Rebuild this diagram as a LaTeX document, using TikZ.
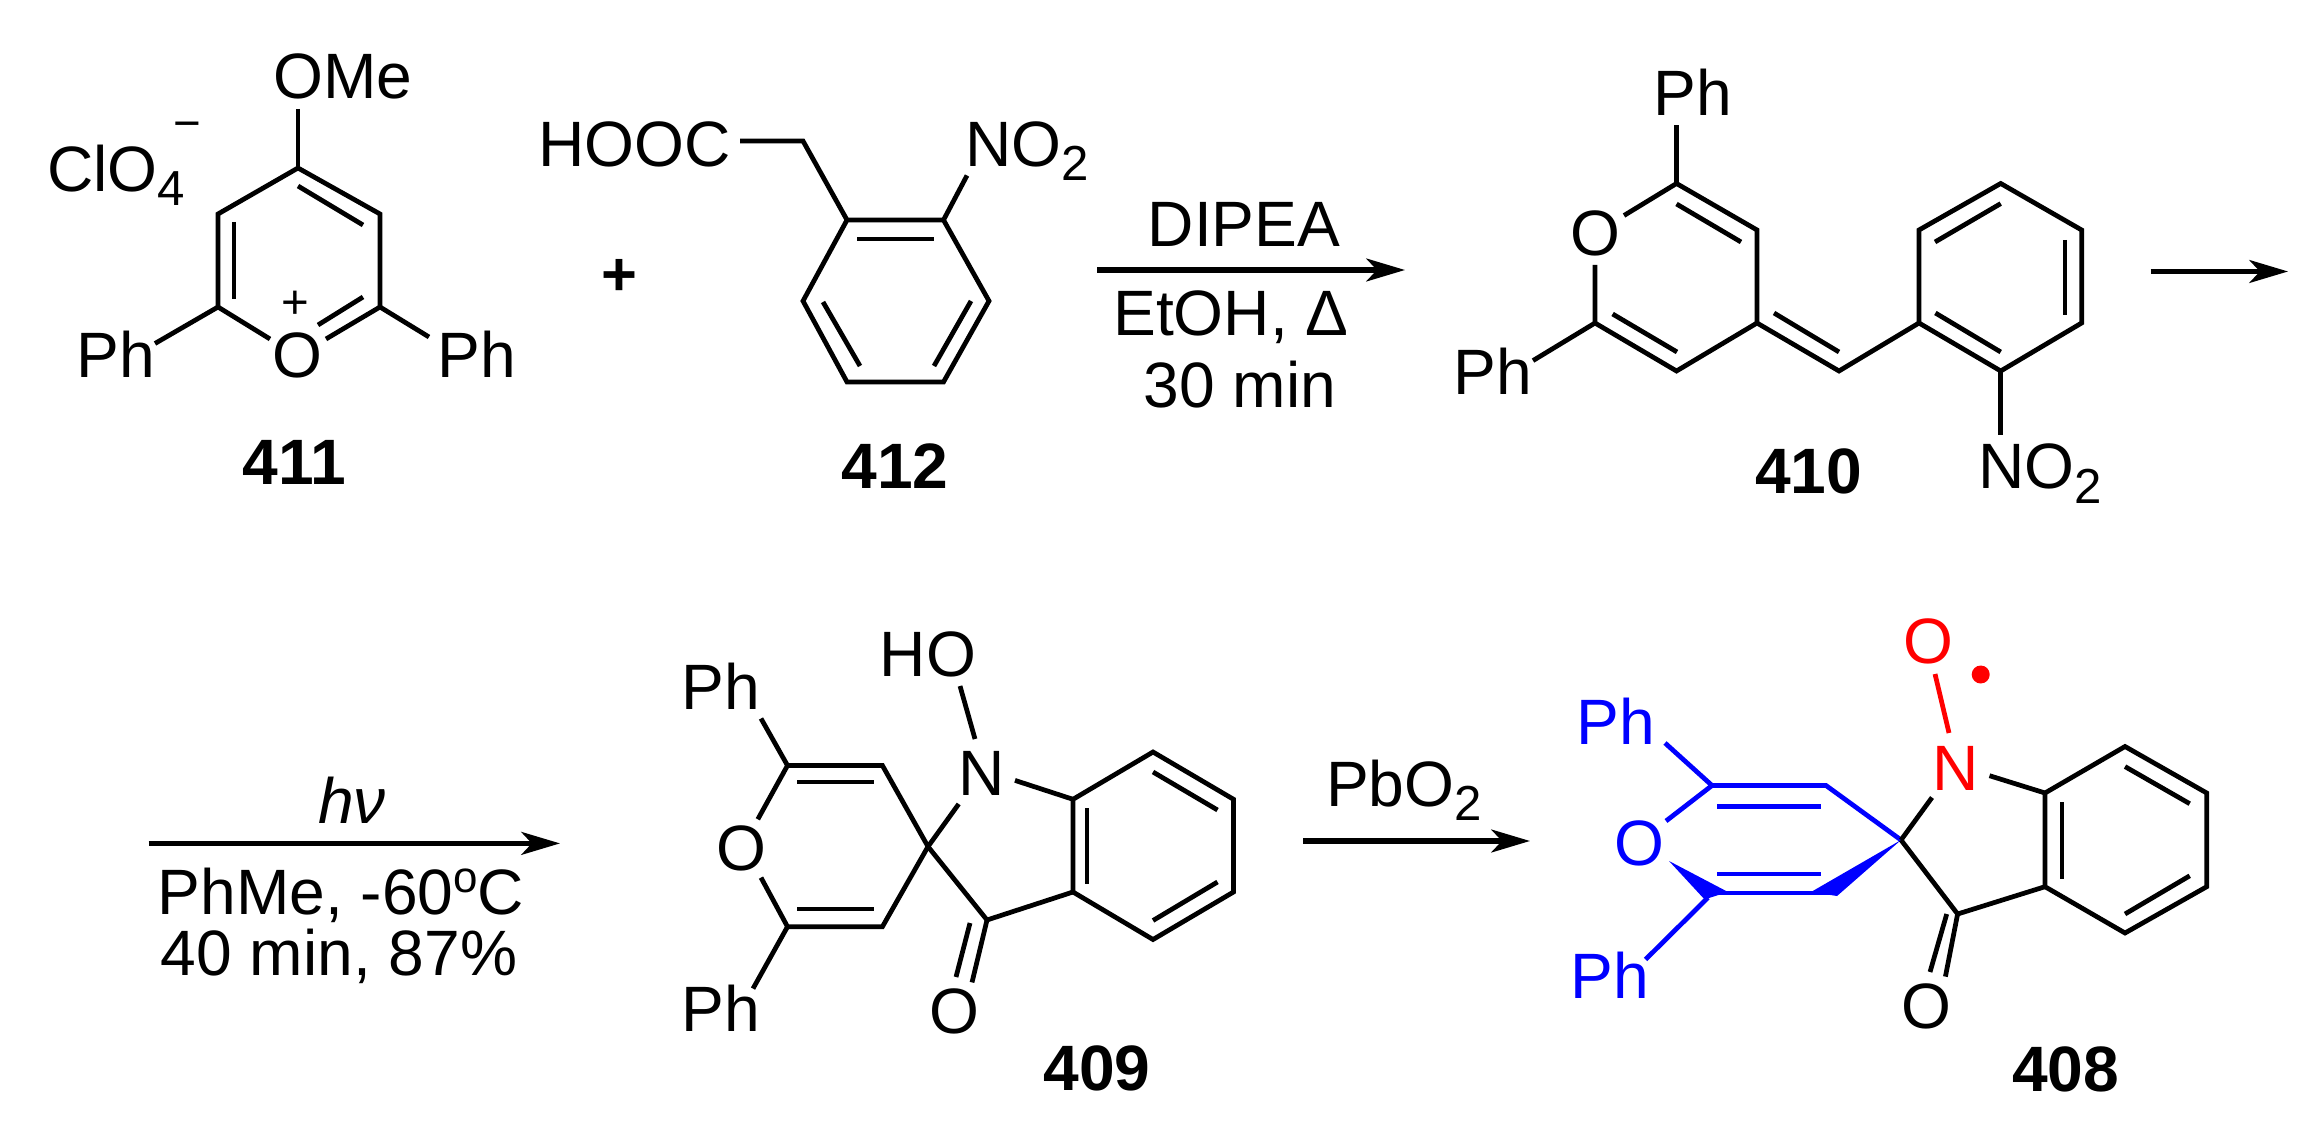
\documentclass[tikz,border=0pt]{standalone}
\usepackage{fontspec}
\setmainfont{Liberation Sans}
\usetikzlibrary{arrows.meta}
\definecolor{cblue}{RGB}{0,0,255}
\definecolor{cred}{RGB}{255,0,0}
\newcommand{\sbx}[1]{\raisebox{-8pt}{\fontsize{28}{28}\selectfont #1}}
\newcommand{\spx}[1]{\raisebox{12.5pt}{\fontsize{25}{25}\selectfont #1}}
\tikzset{
  bond/.style={line width=2.7pt,line join=miter,line cap=butt},
  rxn/.style={line width=3pt,-{Stealth[length=22pt,width=13pt,inset=6pt]}},
  atom/.style={inner sep=0pt,outer sep=0pt,anchor=base,font=\fontsize{36.5}{40}\selectfont},
  atomw/.style={atom,anchor=base west},
  lab/.style={atom,font=\fontsize{36.5}{40}\selectfont\bfseries},
  chg/.style={inner sep=0pt,outer sep=0pt,font=\fontsize{27}{27}\selectfont},
}
\begin{document}
\begin{tikzpicture}[x=0.02cm,y=-0.02cm]
\useasboundingbox (0,0) rectangle (2324,1141);
% ---------- 411
\node[atom] (ome) at (343,99) {OMe};
\node[atomw] (clo) at (47,191.6) {ClO\sbx{4}};
\node[chg] (minus) at (187,131) {−};
\node[atom] (ph411a) at (116,378) {Ph};
\node[atom] (o411) at (297.5,378) {O};
\node[atom] (ph411b) at (477,378) {Ph};
\node[chg] (plus411) at (295,305) {+};
\node[lab] (l411) at (294.5,484.5) {411};
\coordinate (a1) at (298,168);
\coordinate (a2) at (380,214);
\coordinate (a3) at (380,307);
\coordinate (a5) at (218,307);
\coordinate (a6) at (218,214);
\coordinate (a1e) at (298,109);
\coordinate (a3o) at (326,339);
\coordinate (a5o) at (270,339);
\coordinate (a5p) at (155,343.5);
\coordinate (a3p) at (429,337);
\draw[bond] (a5o) -- (a5) -- (a6) -- (a1) -- (a2) -- (a3) -- (a3o);
\draw[bond] (a1e) -- (a1);
\draw[bond] (a5) -- (a5p);
\draw[bond] (a3) -- (a3p);
\draw[bond] (234,222) -- (234,299);
\draw[bond] (298,186) -- (363,225);
\draw[bond] (363,297) -- (318,325);
% ---------- plus
\node[atom,font=\fontsize{35}{40}\selectfont\bfseries,anchor=center] (plus) at (619,277) {+};
% ---------- 412
\node[atomw] (hooc) at (538,166.5) {HOOC};
\node[atomw] (no412) at (965,166.5) {NO\sbx{2}};
\node[lab] (l412) at (895,489) {412};
\coordinate (b0) at (740,141);
\coordinate (b1) at (803,141);
\coordinate (c1) at (847,220);
\coordinate (c2) at (943.5,220);
\coordinate (c3) at (989,301);
\coordinate (c4) at (943.5,382);
\coordinate (c5) at (847,382);
\coordinate (c6) at (803,301);
\coordinate (c2n) at (967,175.5);
\draw[bond] (b0) -- (b1) -- (c1);
\draw[bond] (c1) -- (c2) -- (c3) -- (c4) -- (c5) -- (c6) -- cycle;
\draw[bond] (c2) -- (c2n);
\draw[bond] (857,239) -- (934,239);
\draw[bond] (823,302) -- (860,366);
\draw[bond] (971,301) -- (934,366);
% ---------- arrow 1
\coordinate (r1s) at (1097,270);
\coordinate (r1e) at (1405,270);
\draw[rxn] (r1s) -- (r1e);
\node[atom] (dipea) at (1244,247) {DIPEA};
\node[atom] (etoh) at (1231,336) {EtOH, Δ};
\node[atom] (t30) at (1240,408) {30 min};
% ---------- 410
\node[atom] (ph410a) at (1693,115.6) {Ph};
\node[atom] (o410) at (1595,255.5) {O};
\node[atom] (ph410b) at (1492.6,395) {Ph};
\node[atomw] (no410) at (1978,489) {NO\sbx{2}};
\node[lab] (l410) at (1808.5,493.6) {410};
\coordinate (d1) at (1676.5,183.5);
\coordinate (d2) at (1757,230);
\coordinate (d3) at (1757,323);
\coordinate (d4) at (1676.5,371);
\coordinate (d5) at (1595,323);
\coordinate (d5o) at (1595,265);
\coordinate (d1o) at (1624,215.5);
\coordinate (d1p) at (1676.5,125.4);
\coordinate (d5p) at (1533,360.6);
\coordinate (e0) at (1839,371);
\coordinate (e1) at (1919,323);
\coordinate (e2) at (1919,230);
\coordinate (e3) at (2000.7,183.5);
\coordinate (e4) at (2081.6,230);
\coordinate (e5) at (2081.6,323);
\coordinate (e6) at (2000.7,371);
\coordinate (e6n) at (2000.7,435);
\draw[bond] (d1o) -- (d1) -- (d2) -- (d3) -- (d4) -- (d5) -- (d5o);
\draw[bond] (d1) -- (d1p);
\draw[bond] (d5) -- (d5p);
\draw[bond] (d3) -- (e0) -- (e1);
\draw[bond] (e1) -- (e2) -- (e3) -- (e4) -- (e5) -- (e6) -- cycle;
\draw[bond] (e6) -- (e6n);
\draw[bond] (1676.5,204) -- (1741,242);
\draw[bond] (1612.6,314) -- (1677,352);
\draw[bond] (1774,313) -- (1839,352);
\draw[bond] (1935,242) -- (2000.7,203.6);
\draw[bond] (2065,240) -- (2065,315.5);
\draw[bond] (1935.4,313) -- (2000.7,352);
% ---------- arrow 2
\coordinate (r2s) at (2150.6,271.5);
\coordinate (r2e) at (2288,271.5);
\draw[rxn] (r2s) -- (r2e);
% ---------- arrow 3
\coordinate (r3s) at (148.7,843.4);
\coordinate (r3e) at (560,843.4);
\draw[rxn] (r3s) -- (r3e);
\node[atom] (hv) at (352,823) {\itshape hν};
\node[atom] (phme) at (341,914) {PhMe, -60\spx{o}C};
\node[atom] (t40) at (339,975) {40 min, 87\%};
% ---------- 409
\node[atom] (ph409a) at (721,709.4) {Ph};
\node[atom] (o409) at (741,870) {O};
\node[atom] (ph409b) at (721,1031.5) {Ph};
\node[atom] (ho409) at (928,676) {HO};
\node[atom] (n409) at (982,795.7) {N};
\node[atom] (oc409) at (954,1033) {O};
\node[lab] (l409) at (1097,1090) {409};
\coordinate (f1) at (787.5,765.5);
\coordinate (f2) at (882.4,765.5);
\coordinate (f3) at (928,846.6);
\coordinate (f4) at (882.4,926.7);
\coordinate (f5) at (787.5,926.7);
\coordinate (f1o) at (757.8,819.3);
\coordinate (f5o) at (761,877.6);
\coordinate (f1p) at (761,718.5);
\coordinate (f5p) at (753,988.6);
\coordinate (f3n) at (958.7,804);
\coordinate (fnh) at (975,739);
\coordinate (fho) at (960,686);
\coordinate (fnb) at (1015,780.4);
\coordinate (g0) at (987,920);
\coordinate (g1) at (1073,799.3);
\coordinate (g2) at (1153,752);
\coordinate (g3) at (1233.5,799.3);
\coordinate (g4) at (1233.5,892);
\coordinate (g5) at (1153,939.5);
\coordinate (g6) at (1073,892);
\draw[bond] (f1o) -- (f1) -- (f2) -- (f3) -- (f4) -- (f5) -- (f5o);
\draw[bond] (f1) -- (f1p);
\draw[bond] (f5) -- (f5p);
\draw[bond] (f3) -- (f3n);
\draw[bond] (fnh) -- (fho);
\draw[bond] (fnb) -- (g1);
\draw[bond] (f3) -- (g0) -- (g6);
\draw[bond] (g1) -- (g2) -- (g3) -- (g4) -- (g5) -- (g6) -- cycle;
\draw[bond] (797,782) -- (874,782);
\draw[bond] (797,909) -- (874,909);
\draw[bond] (1087,808.4) -- (1087,884);
\draw[bond] (1153,772) -- (1217.5,810);
\draw[bond] (1217.5,882) -- (1153,920.5);
\draw[bond] (970,923) -- (956,977);
\draw[bond] (g0) -- (972,982.4);
% ---------- arrow 4
\coordinate (r4s) at (1303,841);
\coordinate (r4e) at (1530,841);
\draw[rxn] (r4s) -- (r4e);
\node[atomw] (pbo) at (1326,806) {PbO\sbx{2}};
% ---------- 408
\begin{scope}[cblue,text=cblue]
\node[atom,text=cblue] (ph408a) at (1615.6,744) {Ph};
\node[atom,text=cblue] (o408) at (1639,865) {O};
\node[atom,text=cblue] (ph408b) at (1609.5,998.4) {Ph};
\coordinate (h1) at (1712,785.5);
\coordinate (h2) at (1826,785.5);
\coordinate (h3) at (1901,840);
\coordinate (h4) at (1830,893);
\coordinate (h5) at (1712,893);
\coordinate (h1o) at (1666,821);
\coordinate (h1p) at (1665,743);
\coordinate (h5p) at (1645.5,959.5);
\draw[bond] (h1o) -- (h1) -- (h2) -- (h3);
\draw[bond] (h1) -- (h1p);
\draw[bond] (h4) -- (h5);
\draw[bond] (1708,897.6) -- (h5p);
\draw[bond] (1717.4,806.6) -- (1820.5,806.6);
\draw[bond] (1717.4,874) -- (1820.5,874);
\fill[cblue] (1669,861) -- (1728,892) -- (1704.5,899.4) -- cycle;
\fill[cblue] (h3) -- (1811,892) -- (1837,896) -- cycle;
\end{scope}
\node[atom,text=cred] (o408r) at (1928,663.5) {O};
\node[atom,text=cred] (n408) at (1955.6,790) {N};
\fill[cred] (1980.7,674.5) circle (9);
\node[atom] (oc408) at (1926.4,1028) {O};
\node[lab] (l408) at (2065.5,1091.6) {408};
\coordinate (inh) at (1949,733);
\coordinate (ino) at (1935,674);
\coordinate (i3n) at (1932,797.5);
\coordinate (inb) at (1989.5,775.7);
\coordinate (j0) at (1957.6,914);
\coordinate (j1) at (2045,793);
\coordinate (j2) at (2125,746.5);
\coordinate (j3) at (2206.7,793);
\coordinate (j4) at (2206.7,886.7);
\coordinate (j5) at (2125,933);
\coordinate (j6) at (2045,886.7);
\draw[bond,cred] (ino) -- (inh);
\draw[bond] (h3) -- (i3n);
\draw[bond] (inb) -- (j1);
\draw[bond] (h3) -- (j0) -- (j6);
\draw[bond] (j1) -- (j2) -- (j3) -- (j4) -- (j5) -- (j6) -- cycle;
\draw[bond] (2062,802) -- (2062,878.7);
\draw[bond] (2125,766.6) -- (2189.7,803.7);
\draw[bond] (2189.7,875.8) -- (2125,914);
\draw[bond] (1946.7,914) -- (1930,972);
\draw[bond] (j0) -- (1945.4,976.6);
\end{tikzpicture}
\end{document}
